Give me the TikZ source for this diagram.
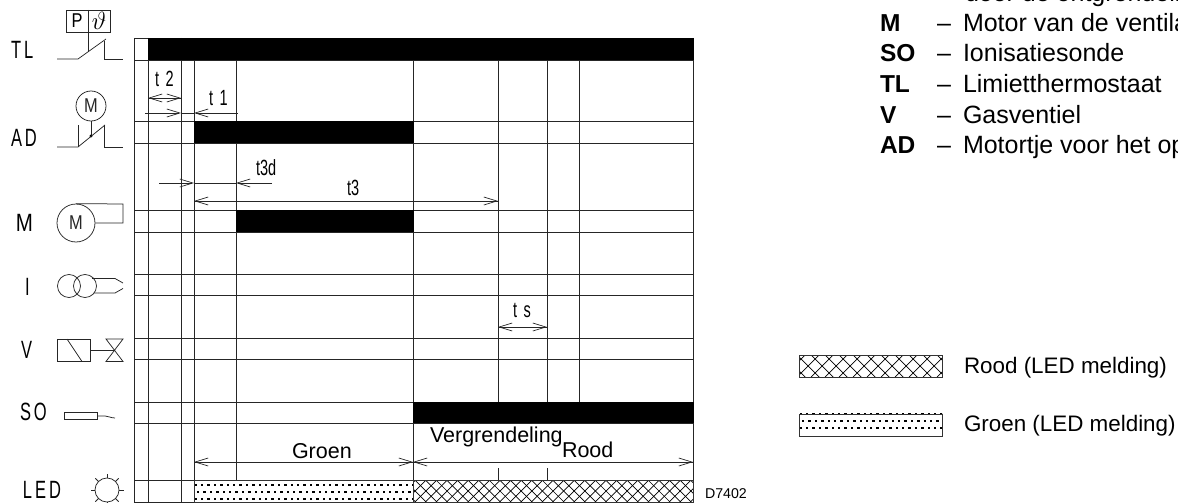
\documentclass[tikz,border=0pt]{standalone}
\usepackage{fontspec}
\usetikzlibrary{arrows.meta}
\setmainfont{Liberation Sans}
\newfontfamily\cadfont[FakeStretch=0.66,LetterSpace=12]{Liberation Sans}
\newfontfamily\cadtight[FakeStretch=0.66]{Liberation Sans}
\newfontfamily\cadwide[FakeStretch=0.82]{Liberation Sans}
\tikzset{
  grid line/.style={line width=0.85pt,black!85},
  sym/.style={line width=0.75pt,black!85},
  dim/.style={line width=0.7pt,black!85,-{Straight Barb[length=13pt,width=8pt,line width=.7pt]}},
  dimline/.style={line width=0.7pt,black!85},
  bar/.style={fill=black,draw=none},
  txt/.style={anchor=base west,inner sep=0pt,outer sep=0pt},
  sig/.style={txt,font=\cadfont\fontsize{25}{25}\selectfont},
  sigm/.style={txt,font=\cadwide\fontsize{25}{25}\selectfont},
  tlab/.style={txt,font=\cadfont\fontsize{22}{22}\selectfont},
  tnar/.style={txt,font=\cadtight\fontsize{22}{22}\selectfont},
  symtxt/.style={anchor=center,inner sep=0pt,font=\cadwide\fontsize{20}{20}\selectfont},
  leg/.style={txt,font=\fontsize{22.4}{22.4}\selectfont},
  legk/.style={txt,font=\fontsize{25}{25}\selectfont},
  legb/.style={txt,font=\bfseries\fontsize{24.5}{24.5}\selectfont},
  lab/.style={txt,font=\fontsize{21.5}{21.5}\selectfont},
}
\newcommand{\crosshatch}[5]{% x0 y0 x1 y1 period
  \begin{scope}
    \clip (#1,#2) rectangle (#3,#4);
    \pgfmathsetmacro{\hstart}{#1-30}
    \pgfmathsetmacro{\hnext}{#1-30+#5}
    \foreach \hx in {\hstart,\hnext,...,#3}{
      \draw[line width=0.7pt,black] (\hx,#4) -- ++(24,-24);
      \draw[line width=0.7pt,black] (\hx,#2) -- ++(24,24);
    }
  \end{scope}
  \draw[line width=0.85pt,black!80] (#1,#2) rectangle (#3,#4);
}
\newcommand{\dottedbox}[5]{% x0 y0 x1 y1 first-row offset
  \begin{scope}
    \clip (#1,#2-1.5) rectangle (#3,#4);
    \pgfmathsetmacro{\dnext}{#1+6.4}
    \pgfmathsetmacro{\dback}{#1+2.4}
    \pgfmathsetmacro{\dbnext}{#1+8.8}
    \foreach \dx in {#1,\dnext,...,#3}{
      \fill (\dx+.6,#2+#5) rectangle ++(2.4,2.4);
      \fill (\dx+.6,#2+#5+14) rectangle ++(2.4,2.4);
    }
    \foreach \dx in {\dback,\dbnext,...,#3}{
      \fill (\dx+.6,#2+#5+7) rectangle ++(2.4,2.4);
    }
  \end{scope}
  \draw[line width=0.85pt,black!80] (#1,#2) rectangle (#3,#4);
}
\begin{document}
\begin{tikzpicture}[x=1pt,y=-1pt]
\useasboundingbox (0,0) rectangle (1178,503);
\clip (0,0) rectangle (1178,503);

% ---- grid
\foreach \yy in {38,60,121,143,210,232,274,295,338,359,402,423,480,502}
  \draw[grid line] (134,\yy) -- (693,\yy);
\foreach \xx in {134,693,148,181}
  \draw[grid line] (\xx,38) -- (\xx,502);
\foreach \xx in {194,236,413}
  \draw[grid line] (\xx,60) -- (\xx,480);
\draw[grid line] (148,480) -- (148,502);
\foreach \xx in {498,547,579}
  \draw[grid line] (\xx,60) -- (\xx,402);
\foreach \xx in {498,547}
  \draw[grid line] (\xx,468) -- (\xx,480);
\draw[grid line] (413,423) -- (413,480);

% ---- bars
\fill[bar] (148,38) rectangle (693.5,60);
\fill[bar] (194,121) rectangle (413.5,143);
\fill[bar] (236,210) rectangle (413.5,232);
\fill[bar] (413,402) rectangle (693.5,423);

% ---- LED row
\fill[white] (194,480) rectangle (693,502);
\dottedbox{194}{480}{413}{502}{3.8}
\crosshatch{413}{480}{693}{502}{10.6}

% ---- dimension coordinates
\coordinate (a145) at (145,113);
\coordinate (a181) at (181,113);
\coordinate (a194) at (194,113);
\coordinate (a238) at (238,113);
\coordinate (t2l) at (148,98);
\coordinate (t2r) at (181,98);
\coordinate (d159) at (159,183);
\coordinate (d194) at (194,183);
\coordinate (d236) at (236,183);
\coordinate (d272) at (272,183);
\coordinate (t3l) at (194,201);
\coordinate (t3r) at (498,201);
\coordinate (tsl) at (498,327);
\coordinate (tsr) at (547,327);
\coordinate (gl) at (194,462);
\coordinate (gr) at (413,462);
\coordinate (rr) at (693,462);

\draw[dim] (t2l) -- (t2r);
\draw[dim] (t2r) -- (t2l);
\draw[dim] (a145) -- (a181);
\draw[dim] (a238) -- (a194);
\draw[dimline] (a181) -- (a194);
\draw[dim] (d159) -- (d194);
\draw[dim] (d272) -- (d236);
\draw[dimline] (d194) -- (d236);
\draw[dim] (t3l) -- (t3r);
\draw[dim] (t3r) -- (t3l);
\draw[dim] (tsl) -- (tsr);
\draw[dim] (tsr) -- (tsl);
\draw[dim] (gl) -- (gr);
\draw[dim] (gr) -- (gl);
\draw[dim] (gr) -- (rr);
\draw[dim] (rr) -- (gr);

% ---- time labels
\node[tlab] (lt2) at (155,87) {t 2};
\node[tlab] (lt1) at (209,106) {t 1};
\node[tnar] (lt3d) at (256,175) {t3d};
\node[tnar] (lt3) at (347,195) {t3};
\node[tlab] (lts) at (513,317) {t s};

% ---- span labels
\node[lab] (lgroen) at (292,458) {Groen};
\node[lab] (lverg) at (430,442) {Vergrendeling};
\node[lab] (lrood) at (562,457) {Rood};
\node[txt,font=\fontsize{14.2}{14.2}\selectfont] (ld) at (705,498) {D7402};

% ---- signal names
\node[sig] (sTL) at (11,58.5) {TL};
\node[sig] (sAD) at (11,146) {AD};
\node[sigm] (sM) at (16,231) {M};
\node[sig] (sI) at (25,295.5) {I};
\node[sig] (sV) at (21,358) {V};
\node[sig] (sSO) at (20,420) {SO};
\node[sig] (sLED) at (23,498) {LED};

% ---- TL symbol
\draw[sym] (66,10) rectangle (110,32);
\draw[sym] (88,10) -- (88,52);
\node[symtxt] (pP) at (77,21) {P};
\node[anchor=center,inner sep=0pt,font=\fontsize{26}{26}\selectfont] (pT) at (99,21) {$\vartheta$};
\draw[sym] (57,59) -- (78,59) -- (106,39);
\draw[sym] (104,41) -- (104,59) -- (123,59);

% ---- AD symbol
\node[draw,circle,sym,minimum size=30pt,inner sep=0pt,font=\cadwide\fontsize{20}{20}\selectfont] (adm) at (91,106) {M};
\draw[sym] (adm.south) -- (91,136);
\fill (91,136) circle (1.6);
\draw[sym] (57,147) -- (78,147) -- (105,125);
\draw[sym] (78,125) -- (78,147);
\draw[sym] (104,125) -- (104,147) -- (123,147);

% ---- M symbol
\node[draw,circle,sym,minimum size=38pt,inner sep=0pt,font=\cadwide\fontsize{20}{20}\selectfont] (mm) at (76,223) {M};
\draw[sym] (mm.north) -- (123,204) -- (123,223) -- (mm.east);

% ---- I symbol
\node[draw,circle,sym,minimum size=23pt,inner sep=0pt] (i1) at (69,286) {};
\node[draw,circle,sym,minimum size=23pt,inner sep=0pt] (i2) at (85,286) {};
\draw[sym] (92,278.5) -- (115,278.5) -- (123,283);
\draw[sym] (94,293) -- (115,293) -- (123,288.5);

% ---- V symbol
\draw[sym] (57,339) rectangle (90,361.5);
\draw[sym] (67,339) -- (82,361.5);
\draw[sym] (90,350) -- (114.5,350);
\draw[sym] (106,339) -- (123,339) -- (106,361.5) -- (123,361.5) -- cycle;

% ---- SO symbol
\draw[sym] (64,412) rectangle (97,419);
\draw[sym] (97,416) -- (105,416) .. controls (108,416) and (111,418) .. (115,418);

% ---- LED symbol
\node[draw,circle,sym,minimum size=24pt,inner sep=0pt] (ledc) at (107,490) {};
\foreach \ang in {0,45,...,315}
  \draw[sym] (ledc) ++(\ang:12) -- ++(\ang:4.5);

% ---- legend
\node[legk] (k0) at (965,2) {door de ontgrendeli};
\node[legb] (kM) at (880,32) {M};
\node[legk] (kMd) at (937,32) {–};
\node[legk] (kMt) at (963,32) {Motor van de ventila};
\node[legb] (kS) at (880,62) {SO};
\node[legk] (kSd) at (937,62) {–};
\node[legk] (kSt) at (963,62) {Ionisatiesonde};
\node[legb] (kT) at (880,92.5) {TL};
\node[legk] (kTd) at (937,92.5) {–};
\node[legk] (kTt) at (963,92.5) {Limietthermostaat};
\node[legb] (kV) at (880,123) {V};
\node[legk] (kVd) at (937,123) {–};
\node[legk] (kVt) at (963,123) {Gasventiel};
\node[legb] (kA) at (880,153) {AD};
\node[legk] (kAd) at (937,153) {–};
\node[legk] (kAt) at (963,153) {Motortje voor het op};

\crosshatch{799}{355}{942}{377}{14}
\dottedbox{799}{414}{942}{436}{-1.3}
\node[leg] (kR) at (964,373) {Rood (LED melding)};
\node[leg] (kG) at (964,431) {Groen (LED melding)};
\end{tikzpicture}
\end{document}
